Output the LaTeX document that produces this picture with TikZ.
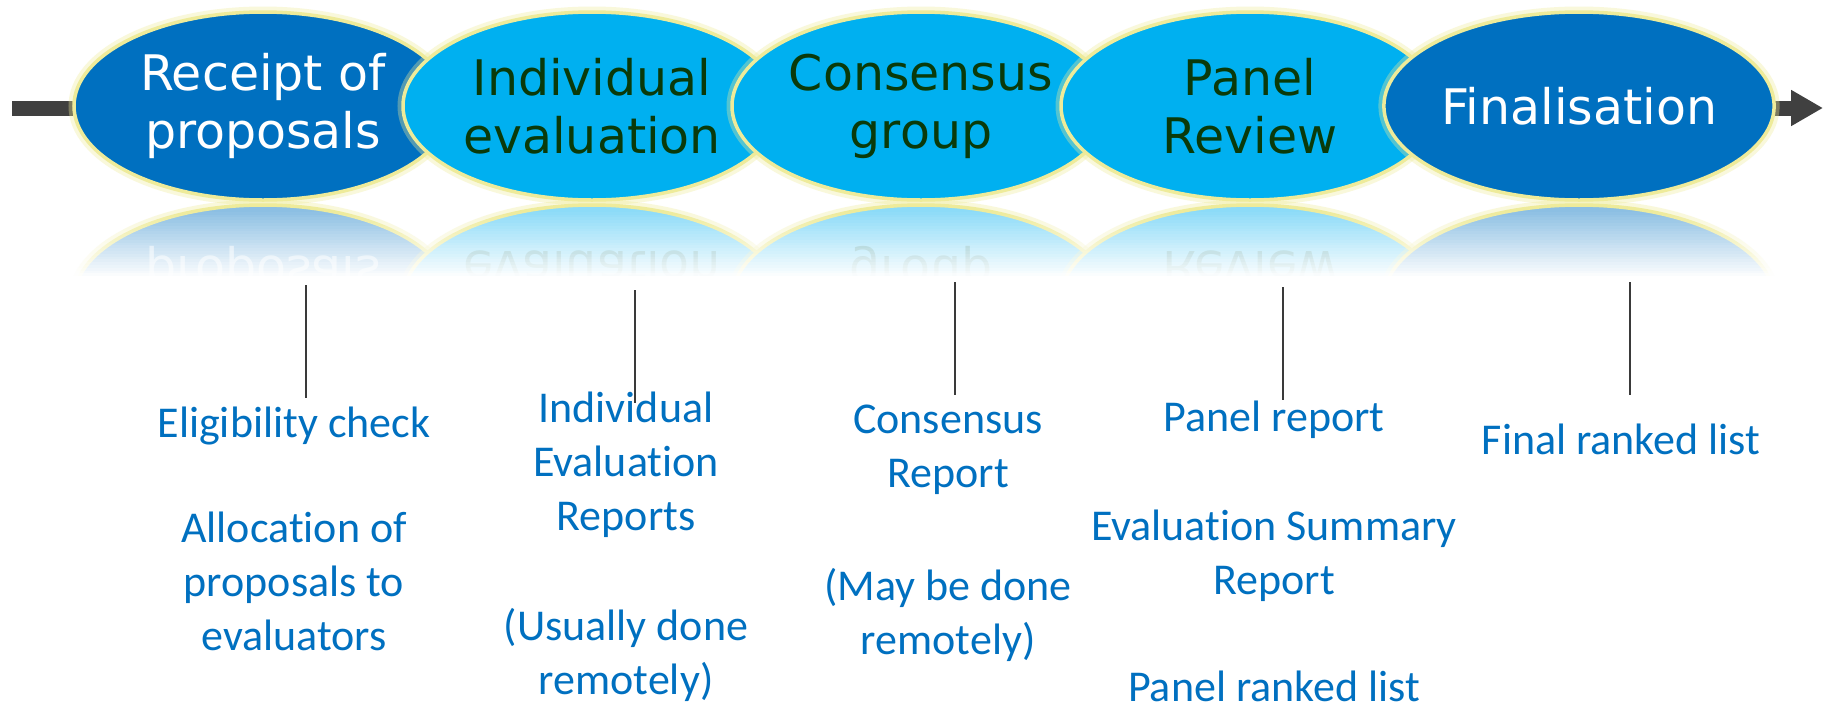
\documentclass[tikz,border=0pt]{standalone}
\usepackage{fontspec}
\usetikzlibrary{shapes.geometric,arrows.meta}
\newfontfamily\ellfont{DejaVu Sans}
\newfontfamily\labfont[Ligatures=NoCommon]{Carlito}
\definecolor{dkblue}{HTML}{0070C0}
\definecolor{ltblue}{HTML}{00B0F0}
\definecolor{dkgreen}{HTML}{0A3A0A}
\definecolor{glowy}{HTML}{EEEB9A}
\definecolor{bargray}{HTML}{404040}
\definecolor{linegray}{HTML}{3A3A3A}
\colorlet{rdk}{dkblue!45!white}
\colorlet{rlt}{ltblue!45!white}
\begin{document}
\begin{tikzpicture}[x=1pt,y=-1pt,
  stage/.style={ellipse, inner sep=0pt, minimum width=378pt, minimum height=188pt,
    font=\ellfont\fontsize{49}{58}\selectfont, align=center,
    draw=glowy, line width=3.5pt,
    preaction={draw=glowy, draw opacity=0.35, line width=11pt}},
  dark/.style={stage, fill=dkblue, text=white},
  light/.style={stage, fill=ltblue, text=dkgreen},
  refl/.style={stage, transform shape},
  lab/.style={font=\labfont\fontsize{44}{54}\selectfont, text=dkblue, align=center,
    inner sep=0pt, anchor=north, execute at begin node=\strut},
  tick/.style={draw=linegray, line width=2pt}
]
\fill[white] (0,0) rectangle (1831,705);
\useasboundingbox (0,0) rectangle (1831,705);

% main arrow
\coordinate (astart) at (12,108);
\coordinate (aend) at (1823,108);
\draw[bargray, line width=15pt, -{Triangle[length=32pt,width=34pt]}] (astart) -- (aend);

% reflections
\begin{scope}[shift={(0,202.5)}, yscale=-1, shift={(0,-202.5)}]
  \node[refl, fill=rdk, text=white!55!rdk] (r1) at (263,106) {Receipt of\\proposals};
  \node[refl, fill=rlt, text=dkgreen!25!rlt] (r2) at (592,106) {Individual\\evaluation};
  \node[refl, fill=rlt, text=dkgreen!25!rlt] (r3) at (921,106) {Consensus\\group};
  \node[refl, fill=rlt, text=dkgreen!25!rlt] (r4) at (1250,106) {Panel\\Review};
  \node[refl, fill=rdk, text=white!55!rdk] (r5) at (1579,106) {Finalisation};
\end{scope}
\foreach \i in {0,...,24}
  \fill[white, fill opacity={\i/24}] (0,{209+2.8*\i}) rectangle (1831,{211.8+2.8*\i});
\fill[white] (0,278) rectangle (1831,420);

% stages
\node[dark]  (e1) at (263,106)  {Receipt of\\proposals};
\node[light] (e2) at (592,106)  {Individual\\evaluation};
\node[light] (e3) at (921,106)  {Consensus\\group};
\node[light] (e4) at (1250,106) {Panel\\Review};
\node[dark]  (e5) at (1579,106) {Finalisation};

% ticks
\coordinate (t1a) at (306,285);  \coordinate (t1b) at (306,398);
\coordinate (t2a) at (635,290);  \coordinate (t2b) at (635,403);
\coordinate (t3a) at (955,282);  \coordinate (t3b) at (955,395);
\coordinate (t4a) at (1283,287); \coordinate (t4b) at (1283,400);
\coordinate (t5a) at (1630,282); \coordinate (t5b) at (1630,395);
\draw[tick] (t1a) -- (t1b);
\draw[tick] (t2a) -- (t2b);
\draw[tick] (t3a) -- (t3b);
\draw[tick] (t4a) -- (t4b);
\draw[tick] (t5a) -- (t5b);

% labels
\node[lab] (l1a) at (294,399) {Eligibility check};
\node[lab] (l1b) at (294,512) {Allocation of\\proposals to\\evaluators};
\node[lab] (l2a) at (626,392) {Individual\\Evaluation\\Reports};
\node[lab] (l2b) at (626,608) {(Usually done\\remotely)};
\node[lab] (l3a) at (948,405) {Consensus\\Report};
\node[lab] (l3b) at (948,568) {(May be done\\remotely)};
\node[lab] (l4a) at (1274,393) {Panel report};
\node[lab] (l4b) at (1274,510) {Evaluation Summary\\Report};
\node[lab] (l4c) at (1274,663) {Panel ranked list};
\node[lab] (l5)  at (1621,416) {Final ranked list};
\end{tikzpicture}
\end{document}
